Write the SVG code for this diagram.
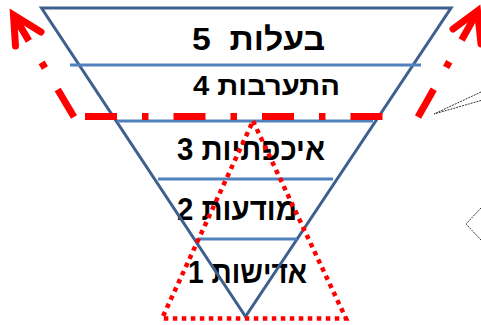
<svg xmlns="http://www.w3.org/2000/svg" width="481" height="325" viewBox="0 0 481 325">
<style>
.lbl{font-family:"Liberation Sans",Arial,"DejaVu Sans",sans-serif;font-weight:bold;fill:#000;text-anchor:middle}
.tri{fill:none;stroke:#3F5F8E;stroke-width:3;stroke-linejoin:miter}
.hl{stroke:#4F81BD;stroke-width:3;fill:none}
.red{fill:none;stroke:#FF0000;stroke-width:7}
.dd{stroke-dasharray:32 25 6.5 25}
.dot{fill:none;stroke:#FF0000;stroke-width:4.5;stroke-dasharray:4.5 4.5}
.thin{fill:none;stroke:#333;stroke-width:1;stroke-dasharray:2 1}
</style>
<rect width="481" height="325" fill="#fff"/>
<g id="labels">
<text class="lbl" x="258.5" y="50" font-size="32" textLength="133" lengthAdjust="spacingAndGlyphs" xml:space="preserve">בעלות  5</text>
<text class="lbl" x="266.5" y="95" font-size="27" textLength="147" lengthAdjust="spacingAndGlyphs">התערבות 4</text>
<text class="lbl" x="251" y="160" font-size="31" textLength="148" lengthAdjust="spacingAndGlyphs">איכפתיות 3</text>
<text class="lbl" x="237" y="220" font-size="31" textLength="120" lengthAdjust="spacingAndGlyphs">מודעות 2</text>
<text class="lbl" x="247.5" y="283" font-size="32" textLength="119" lengthAdjust="spacingAndGlyphs">אדישות 1</text>
</g>
<g id="funnel">
<polygon class="tri" points="41.5,8 451,8 245.5,316.5"/>
<line class="hl" x1="70" y1="65" x2="421" y2="65"/>
<line class="hl" x1="117" y1="121" x2="373" y2="121"/>
<line class="hl" x1="158" y1="179" x2="333" y2="179"/>
<line class="hl" x1="198" y1="239" x2="297" y2="239"/>
</g>
<g id="connectors">
<line class="red dd" x1="85" y1="116.5" x2="407" y2="116.5"/>
<line class="red dd" x1="74" y1="117" x2="13" y2="14"/>
<polyline class="red" points="15.5,46 13.5,15 41,32" stroke-linecap="round" stroke-linejoin="miter"/>
<line class="red dd" x1="418" y1="117" x2="478" y2="11"/>
<polyline class="red" points="453,29 477.5,11 481,44" stroke-linecap="round" stroke-linejoin="miter"/>
<polygon class="dot" points="253,121 346,318.5 162,318.5"/>
<polyline class="thin" points="481,92 434,114 481,100.5"/>
<polyline class="thin" points="481,208 466,224 481,240"/>
</g>
</svg>
